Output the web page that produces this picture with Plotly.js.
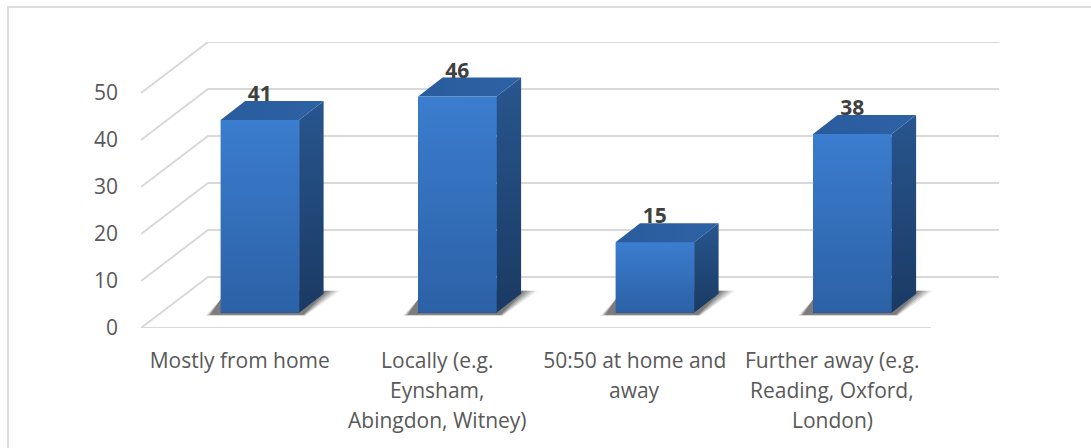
<!DOCTYPE html>
<html>
<head>
<meta charset="utf-8">
<script src="https://cdn.plot.ly/plotly-3.0.1.min.js"></script>
<style>
html,body{margin:0;padding:0;background:#fff;overflow:hidden}
#frame{position:absolute;left:7px;top:6px;width:1084px;height:442px;border-top:2px solid #dcdcdc;border-left:2px solid #dcdcdc;box-sizing:border-box}
#chart{position:absolute;left:0;top:0;width:1091px;height:448px}
</style>
</head>
<body>
<div id="frame"></div>
<div id="chart"></div>
<script>
// ---- data ----
const categories = ["Mostly from home", "Locally (e.g. Eynsham, Abingdon, Witney)", "50:50 at home and away", "Further away (e.g. Reading, Oxford, London)"];
const categoryLines = [
  ["Mostly from home"],
  ["Locally (e.g.", "Eynsham,", "Abingdon, Witney)"],
  ["50:50 at home and", "away"],
  ["Further away (e.g.", "Reading, Oxford,", "London)"]
];
const values = [41, 46, 15, 38];
const yTicks = [0, 10, 20, 30, 40, 50];

// ---- projection of the fake 3-D scene (axis units) ----
const PX_X = 197.5, PX_Y = 4.7;           // pixels per x-unit / per value-unit
const WALL_DX = 67 / PX_X, WALL_DY = 51 / PX_Y;
const XMAX = 858 / PX_X, YMAX = 286 / PX_Y;
const FLOOR_D = 0.3;                      // front of the bars, as share of floor depth
const BAR_W = 78.5 / PX_X;
const DEPTH_DX = 24.5 / PX_X, DEPTH_DY = 19 / PX_Y;
const baseX = FLOOR_D * WALL_DX, baseY = FLOOR_D * WALL_DY;
const FONT = '"Open Sans", sans-serif';
const GRID = '#d9d9d9';

const traces = [];
const poly = (pts, extra) => traces.push(Object.assign({
  type: 'scatter', mode: 'lines', x: pts.map(p => p[0]), y: pts.map(p => p[1]),
  fill: 'toself', line: {width: 0}, hoverinfo: 'skip', showlegend: false
}, extra));
const vGrad = (bottom, top) => ({type: 'vertical', colorscale: [[0, bottom], [1, top]]});

// real bars: front faces
traces.push({
  type: 'bar', x: categories.map((c, i) => i + 0.5 + baseX), y: values, base: values.map(() => baseY),
  width: BAR_W, marker: {color: '#3268b4', line: {width: 0}}, hoverinfo: 'skip', showlegend: false
});

// gridlines: left wall + back wall
yTicks.forEach(v => {
  traces.push({
    type: 'scatter', mode: 'lines', hoverinfo: 'skip', showlegend: false,
    x: [0, WALL_DX, XMAX], y: [v, v + WALL_DY, v + WALL_DY],
    line: {color: GRID, width: 2}
  });
});
// front floor edge
traces.push({
  type: 'scatter', mode: 'lines', hoverinfo: 'skip', showlegend: false, cliponaxis: false,
  x: [0, categories.length], y: [0, 0], line: {color: GRID, width: 2}
});

// 3-D boxes
values.forEach((v, i) => {
  const l = i + 0.5 + baseX - BAR_W / 2, r = l + BAR_W;
  const b = baseY, t = baseY + v;
  const dx = DEPTH_DX, dy = DEPTH_DY;
  // soft floor shadow (layered)
  [[1.0, 0.1], [0.92, 0.14], [0.84, 0.18], [0.76, 0.22], [0.68, 0.26]].forEach(s => {
    const sx = s[0] * 41 / PX_X, sy = s[0] * 3 / PX_Y, sl = s[0] * 15 / PX_X;
    poly([[l - sl, b - sy], [r + sx * 0.15, b - sy], [r + sx, b + dy + 3 / PX_Y], [r, b + dy + 3 / PX_Y], [l, b + dy * 0.7]],
         {fillcolor: 'rgba(50,50,50,' + s[1] + ')'});
  });
  // side face
  poly([[r, b], [r + dx, b + dy], [r + dx, t + dy], [r, t]],
       {fillcolor: '#244f87', fillgradient: vGrad('#1a3a63', '#28568f')});
  // top face
  poly([[l, t], [r, t], [r + dx, t + dy], [l + dx, t + dy]],
       {fillcolor: '#2a5f9f', fillgradient: {type: 'horizontal', colorscale: [[0, '#2a5c9c'], [1, '#2d62a6']]}});
  // front face
  poly([[l, b], [r, b], [r, t], [l, t]],
       {fillcolor: '#3268b4', fillgradient: vGrad('#2c61a6', '#3b7dcf')});
});

// value labels
traces.push({
  type: 'scatter', mode: 'text', hoverinfo: 'skip', showlegend: false, cliponaxis: false,
  x: values.map((v, i) => i + 0.5 + baseX), y: values.map(v => baseY + v + 24 / PX_Y),
  text: values.map(String), textposition: 'middle center',
  textfont: {family: FONT, size: 21, color: '#404040', weight: 700}
});

// extra lines of the category labels (their line spacing is wider than a tick label's)
const annotations = [];
categoryLines.forEach((lines, i) => lines.slice(1).forEach((txt, j) => {
  annotations.push({
    xref: 'x', yref: 'paper', x: i + 0.5, y: -(31 + 30.5 * (j + 1)) / 286,
    text: txt, showarrow: false, xanchor: 'center', yanchor: 'middle',
    font: {family: FONT, size: 21, color: '#595959'}
  });
}));

const layout = {
  width: 1091, height: 448,
  margin: {l: 141, r: 92, t: 42, b: 120},
  paper_bgcolor: 'rgba(0,0,0,0)', plot_bgcolor: 'rgba(0,0,0,0)',
  showlegend: false, bargap: 0,
  font: {family: FONT, color: '#595959', size: 21},
  xaxis: {
    range: [0, XMAX], showgrid: false, zeroline: false, showline: false,
    tickmode: 'array', tickvals: categories.map((c, i) => i + 0.5),
    ticktext: categoryLines.map(l => l[0]),
    ticks: '', ticklabelstandoff: 18, tickfont: {family: FONT, size: 21, color: '#595959'}
  },
  yaxis: {
    range: [0, YMAX], showgrid: false, zeroline: false, showline: false,
    tickmode: 'array', tickvals: yTicks, ticktext: yTicks.map(String),
    ticks: '', ticklabelstandoff: 22, tickfont: {family: FONT, size: 21, color: '#595959'}
  },
  annotations: annotations
};

Plotly.newPlot('chart', traces, layout, {staticPlot: true, displayModeBar: false});
</script>
</body>
</html>
